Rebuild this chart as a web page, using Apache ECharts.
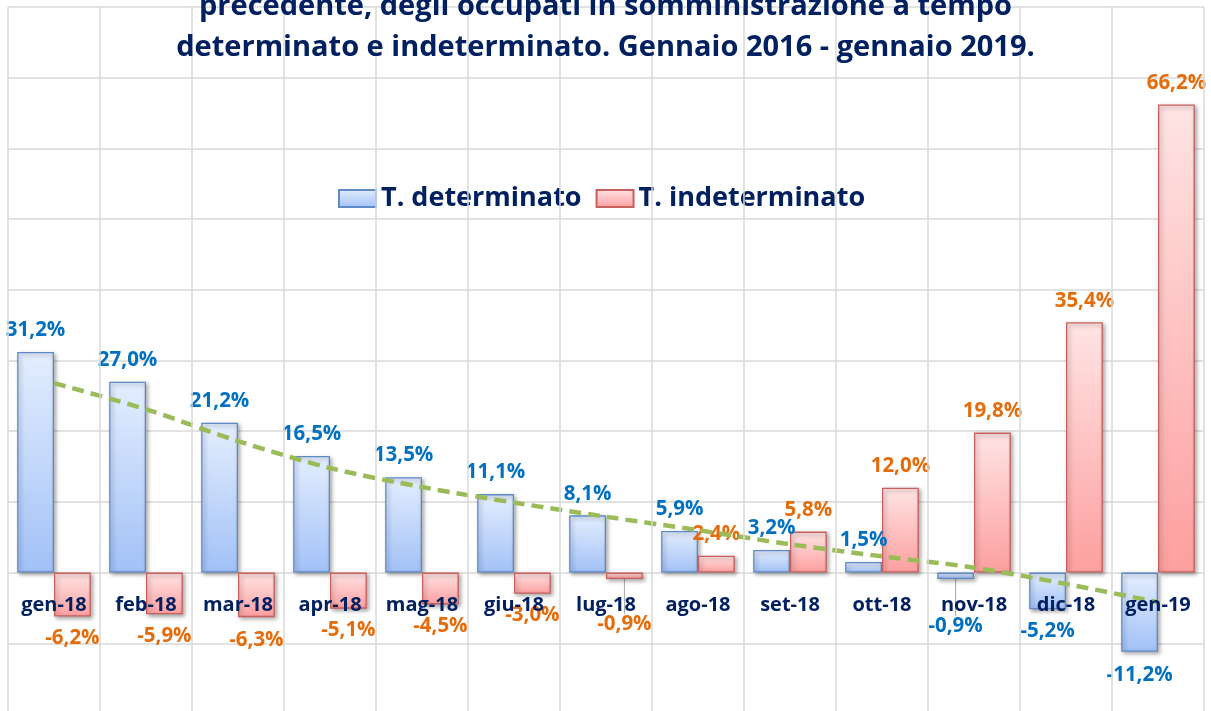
<!DOCTYPE html>
<html>
<head>
<meta charset="utf-8">
<script src="https://cdn.jsdelivr.net/npm/echarts@6/dist/echarts.min.js"></script>
<style>
  html, body { margin: 0; padding: 0; background: #fff; }
  #viz { width: 1211px; height: 711px; }
</style>
</head>
<body>
<div id="viz"></div>
<script>
/* data */
var mesi = ['gen-18', 'feb-18', 'mar-18', 'apr-18', 'mag-18', 'giu-18', 'lug-18',
            'ago-18', 'set-18', 'ott-18', 'nov-18', 'dic-18', 'gen-19'];
var determinato = [31.2, 27.0, 21.2, 16.5, 13.5, 11.1, 8.1, 5.9, 3.2, 1.5, -0.9, -5.2, -11.2];
var indeterminato = [-6.2, -5.9, -6.3, -5.1, -4.5, -3.0, -0.9, 2.4, 5.8, 12.0, 19.8, 35.4, 66.2];
// trend line (Excel trendline on T. determinato), read point by point
var tendenza = [26.8, 23.1, 18.6, 14.8, 12.1, 9.9, 7.9, 6.0, 4.0, 2.3, 0.7, -1.6, -4.2];

// labels pushed down by hand in the original (with leader lines)
var detLabelDy = [0, 0, 0, 0, 0, 0, 0, 0, 0, 0, 26, 0, 2];
var indLabelDy = [0, 0, 2, 0, 0, 0, 24, 0, 0, 0, 0, 0, 0];

var NAVY = '#002060';
var FONT = '"Open Sans", Lato, sans-serif';

function pct(v){
  return v.toFixed(1).replace('.', ',') + '%';
}

function grad(top, bottom){
  return new echarts.graphic.LinearGradient(0, 0, 0, 1, [
    {offset: 0, color: top}, {offset: 1, color: bottom}
  ]);
}

// label above positive bars, below negative ones; leader line only where moved
function withLabelPos(values, dys){
  var out = [];
  for (var i = 0; i < values.length; i++){
    out.push({
      value: values[i],
      label: {position: values[i] < 0 ? 'bottom' : 'top'},
      labelLine: {show: dys[i] > 10}
    });
  }
  return out;
}

function plotrun(){
  var myChart = echarts.init(document.getElementById('viz'));

  var barShadow = {
    shadowColor: 'rgba(0,0,0,0.35)',
    shadowBlur: 4,
    shadowOffsetX: 2,
    shadowOffsetY: 2
  };

  var option = {
    backgroundColor: '#fff',
    animation: false,
    title: {
      text: 'precedente, degli occupati in somministrazione a tempo\ndeterminato e indeterminato. Gennaio 2016 - gennaio 2019.',
      left: 'center',
      top: -14,
      padding: 0,
      textStyle: {
        fontFamily: FONT,
        fontSize: 29,
        fontWeight: 'bold',
        color: NAVY,
        lineHeight: 41
      }
    },
    legend: {
      left: 333,
      top: 180,
      icon: 'rect',
      itemWidth: 37,
      itemHeight: 17,
      itemGap: 14,
      data: ['T. determinato', 'T. indeterminato'],
      textStyle: {
        fontFamily: FONT,
        fontSize: 27,
        fontWeight: 'bold',
        color: NAVY
      }
    },
    grid: {
      left: 8,
      right: 7,
      top: 7,
      height: 707,
      outerBoundsMode: 'none'
    },
    xAxis: {
      type: 'category',
      data: mesi,
      position: 'bottom',
      z: 5,
      axisLine: {show: false, onZero: false},
      axisTick: {show: false, interval: 0},
      axisLabel: {
        interval: 0,
        margin: -119,
        fontFamily: FONT,
        fontSize: 20,
        fontWeight: 'bold',
        color: NAVY
      },
      splitLine: {show: true, interval: 0, lineStyle: {color: '#d9d9d9', width: 1.5}}
    },
    yAxis: {
      type: 'value',
      min: -20,
      max: 80,
      interval: 10,
      axisLabel: {show: false},
      axisLine: {show: false},
      axisTick: {show: false},
      splitLine: {lineStyle: {color: '#d9d9d9', width: 1.5}}
    },
    series: [{
      name: 'T. determinato',
      type: 'bar',
      data: withLabelPos(determinato, detLabelDy),
      barWidth: '40%',
      barGap: '0%',
      itemStyle: Object.assign({
        color: grad('#e4eefe', '#a2c1f7'),
        borderColor: '#5f8ac7',
        borderWidth: 1.3
      }, barShadow),
      label: {
        show: true,
        distance: 11,
        formatter: function(p){ return pct(p.value); },
        fontFamily: FONT,
        fontSize: 20.5,
        fontWeight: 'bold',
        color: '#0070c0'
      },
      labelLine: {show: false, lineStyle: {color: '#a6a6a6', width: 1}},
      labelLayout: function(p){ return {dy: detLabelDy[p.dataIndex]}; }
    }, {
      name: 'T. indeterminato',
      type: 'bar',
      data: withLabelPos(indeterminato, indLabelDy),
      barWidth: '40%',
      barGap: '0%',
      itemStyle: Object.assign({
        color: grad('#ffe4e4', '#fd9f9f'),
        borderColor: '#c9605d',
        borderWidth: 1.3
      }, barShadow),
      label: {
        show: true,
        distance: 11,
        formatter: function(p){ return pct(p.value); },
        fontFamily: FONT,
        fontSize: 20.5,
        fontWeight: 'bold',
        color: '#e46c0a'
      },
      labelLine: {show: false, lineStyle: {color: '#a6a6a6', width: 1}},
      labelLayout: function(p){ return {dy: indLabelDy[p.dataIndex]}; }
    }, {
      name: 'tendenza',
      type: 'line',
      data: tendenza,
      smooth: 0.3,
      showSymbol: false,
      symbol: 'none',
      z: 4,
      silent: true,
      lineStyle: {color: '#9bbb59', width: 4.5, type: [12, 7]}
    }]
  };

  myChart.setOption(option, true);
}

plotrun();
</script>
</body>
</html>
